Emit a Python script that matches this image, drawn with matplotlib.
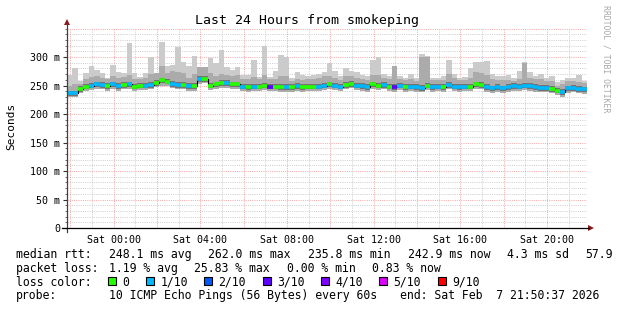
import matplotlib
matplotlib.use('Agg')
import matplotlib.pyplot as plt
import numpy as np
from matplotlib.patches import Rectangle, Polygon
from matplotlib.lines import Line2D

# ---------------- data ----------------
t_start = -2.156          # hours relative to Sat 00:00
step_h = 0.25             # consolidation step (hours)

median_ms = [236,236,244,248,250,252,251,249,252,249,251,252,248,250,250,251,255,259,257,253,251,251,249,249,
             261,262,250,252,254,254,252,252,248,247,248,248,250,248,248,247,247,247,249,247,248,248,248,250,
             252,250,248,251,253,250,249,247,252,250,251,248,247,250,247,248,247,246,250,247,248,247,251,248,
             247,248,248,252,251,247,245,247,245,247,249,248,250,249,247,246,246,244,241,238,245,246,244,243]
max_ms = [268,280,258,272,285,278,272,264,286,274,272,325,272,265,272,300,272,327,285,286,318,292,285,302,
          283,283,298,290,312,282,277,282,268,268,294,265,319,265,275,303,300,263,274,268,266,268,271,273,
          289,275,266,280,275,274,268,266,294,300,271,266,284,266,264,271,263,306,302,264,264,266,294,270,
          264,265,280,292,292,293,270,266,266,268,263,275,292,273,266,271,263,266,257,260,264,264,268,258]
upper_ms = [250,252,252,262,265,266,264,262,266,263,265,268,262,262,264,270,272,285,272,275,274,272,264,270,
            283,283,272,266,270,268,266,268,262,262,265,262,268,262,262,266,266,258,262,260,262,262,264,266,
            266,264,260,266,266,264,262,260,268,268,264,262,284,262,260,262,258,300,300,260,260,260,270,264,
            260,260,264,274,272,268,262,260,260,260,258,262,290,264,262,262,258,258,250,252,258,258,256,254]
min_ms = [230,230,236,240,242,244,243,241,244,241,243,244,240,242,242,243,247,250,249,245,243,243,241,241,
          252,254,242,244,246,246,244,244,240,239,240,240,242,240,240,239,239,239,241,239,240,240,240,242,
          244,242,240,243,245,242,241,239,244,242,243,240,239,242,239,240,239,238,242,239,240,239,243,240,
          239,240,240,244,243,239,237,239,237,239,241,240,242,241,239,238,238,236,233,230,237,238,236,235]
loss_idx = [1,1,0,0,1,1,1,0,1,1,0,1,0,0,1,1,0,0,0,1,1,0,1,0,
            1,0,0,0,0,1,0,0,1,0,1,0,0,3,0,0,1,0,1,0,0,0,1,1,
            0,1,1,0,0,1,1,1,0,0,1,0,3,1,0,1,1,1,0,1,1,0,1,1,
            1,1,0,0,0,1,1,1,1,1,1,1,1,1,1,1,1,0,0,1,1,1,1,1]

loss_labels = ['0', '1/10', '2/10', '3/10', '4/10', '5/10', '9/10']
loss_colors = ['#26ff00', '#00b8ff', '#0059ff', '#5e00ff', '#7e00ff', '#dd00ff', '#ff0000']

tick_hours = [0, 4, 8, 12, 16, 20]
tick_labels = ['Sat 00:00', 'Sat 04:00', 'Sat 08:00', 'Sat 12:00', 'Sat 16:00', 'Sat 20:00']
y_ticks = [0, 50, 100, 150, 200, 250, 300]
y_labels = ['0', '50 m', '100 m', '150 m', '200 m', '250 m', '300 m']

rtt_stats = ['median rtt:', '248.1 ms avg', '262.0 ms max', '235.8 ms min', '242.9 ms now', '4.3 ms sd', '57.9']
loss_stats = ['packet loss:', '1.19 % avg', '25.83 % max', '0.00 % min', '0.83 % now']
probe_info = ['probe:', '10 ICMP Echo Pings (56 Bytes) every 60s', 'end: Sat Feb  7 21:50:37 2026']

# ---------------- figure ----------------
W, H = 617, 310
fig = plt.figure(figsize=(W/100, H/100), dpi=100)
fig.patch.set_facecolor('white')

def fx(x): return x / W
def fy(y): return 1 - y / H

MONO = 'DejaVu Sans Mono'
ax = fig.add_axes([fx(67), fy(228), fx(587) - fx(67), fy(28) - fy(228)])
ax.set_facecolor('white')
x0, x1 = t_start, t_start + 24
ax.set_xlim(x0, x1)
ax.set_ylim(0, 350.9)

# grid (dotted)
gkw = dict(linestyle=(0, (1, 1.2)), linewidth=0.72, zorder=1)
for v in np.arange(10, 351, 10):
    if v % 50:
        ax.axhline(v, color='#cfcfcf', **gkw)
for v in np.arange(50, 351, 50):
    ax.axhline(v, color='#f5a8a8', **gkw)
for h in range(-2, 22):
    ax.axvline(h, color='#f5a8a8' if h % 2 == 0 else '#cfcfcf', **gkw)

N = len(median_ms)
edges = t_start + step_h * np.arange(N + 1)
med = np.array(median_ms, float)
def ext(a):
    a = np.asarray(a, float)
    return np.append(a, a[-1])

ax.fill_between(edges, ext(min_ms), ext(max_ms), step='post', color='#cbcbcb', lw=0, zorder=2)
ax.fill_between(edges, ext(min_ms), ext(upper_ms), step='post', color='#ababab', lw=0, zorder=3)
ax.fill_between(edges, ext(med - 5), ext(med + 5), step='post', color='#747474', lw=0, zorder=4)
ax.step(edges, ext(med), where='post', color='black', lw=0.8, zorder=5)
for i in range(N):
    ax.hlines(med[i], edges[i], edges[i + 1], color=loss_colors[loss_idx[i]],
              lw=2.6, zorder=6, capstyle='butt')

for s in ['top', 'right', 'left', 'bottom']:
    ax.spines[s].set_visible(False)

ax.set_yticks(y_ticks)
ax.set_yticklabels(y_labels, fontfamily=MONO, fontsize=7.2)
ax.set_yticks(np.arange(0, 351, 10), minor=True)
ax.tick_params(axis='y', which='major', length=3, width=0.8, pad=2, color='#333333')
ax.tick_params(axis='y', which='minor', length=1.5, width=0.6, color='#555555')
ax.set_xticks(tick_hours)
ax.set_xticklabels(tick_labels, fontfamily=MONO, fontsize=7.2)
ax.tick_params(axis='x', which='major', length=0, pad=5)

# axes lines and arrows
fig.add_artist(Line2D([fx(67), fx(67)], [fy(232), fy(24)], color='#404040', lw=0.9))
fig.add_artist(Line2D([fx(62), fx(589)], [fy(228), fy(228)], color='black', lw=0.9))
fig.add_artist(Polygon([[fx(64), fy(25)], [fx(70), fy(25)], [fx(67), fy(19)]], closed=True,
                       color='#8b1a1a', lw=0))
fig.add_artist(Polygon([[fx(588), fy(225)], [fx(588), fy(231)], [fx(594), fy(228)]], closed=True,
                       color='#8b1a1a', lw=0))

# titles
fig.text(fx(307), fy(24), 'Last 24 Hours from smokeping', ha='center', va='baseline',
         fontfamily=MONO, fontsize=9.5)
fig.text(fx(11), fy(126), 'Seconds', rotation=90, ha='center', va='center',
         fontfamily=MONO, fontsize=8)
fig.text(fx(606), fy(59), 'RRDTOOL / TOBI OETIKER', rotation=270, ha='center', va='center',
         fontfamily=MONO, fontsize=5.9, color='#a8a8a8')

# legend
cw = 7.12
lx = 16
FS = 8.3
def put(col, base, s):
    fig.text(fx(lx + col * cw), fy(base), s, ha='left', va='baseline', fontfamily=MONO, fontsize=FS)

for col, s in zip([0, 13, 27, 41, 55, 69, 80], rtt_stats):
    put(col, 257.7, s)
for col, s in zip([0, 13, 25, 38, 50], loss_stats):
    put(col, 271.6, s)
put(0, 285.5, 'loss color:')
box_cols = [13, 18.3, 26.5, 34.7, 42.9, 51.1, 59.3]
for col, lab, c in zip(box_cols, loss_labels, loss_colors):
    bx = lx + col * cw - 0.5
    fig.add_artist(Rectangle((fx(bx), fy(285.3)), 8 / W, 8 / H, facecolor=c,
                             edgecolor='black', lw=0.8, transform=fig.transFigure))
    put(col + 1.95, 285.5, lab)
for col, s in zip([0, 13, 54], probe_info):
    put(col, 299.4, s)

fig.savefig('out.png', dpi=100, facecolor='white')
